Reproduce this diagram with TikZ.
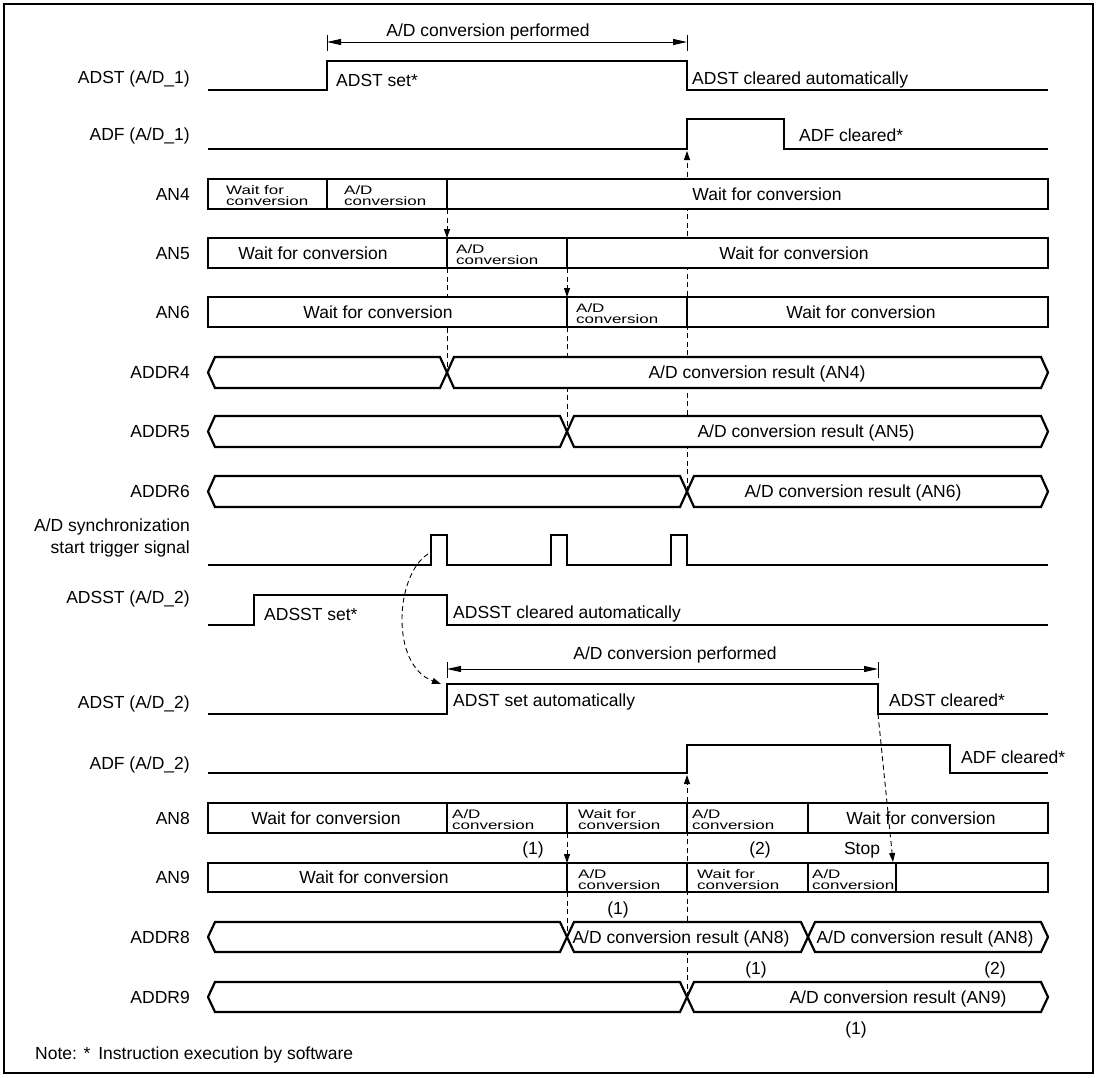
\documentclass[tikz,border=0pt]{standalone}
\usepackage{fontspec}
\setmainfont{Liberation Sans}
\newfontfamily\widefam[FakeStretch=1.38]{Liberation Sans}
\usetikzlibrary{arrows.meta}
\newcommand\fmain{\fontsize{17.5}{20}\selectfont}
\newcommand\fsmall{\widefam\fontsize{12.3}{9}\selectfont}
\tikzset{
  sig/.style={line width=2pt, line join=miter},
  box/.style={line width=2.2pt, fill=white, line join=miter},
  dsh/.style={line width=0.9pt, dash pattern=on 5pt off 3.5pt},
  dar/.style={dsh, -{Triangle[length=9pt,width=6pt]}},
  tar/.style={line width=1pt, {Triangle[length=14pt,width=6pt]}-{Triangle[length=14pt,width=6pt]}},
  tick/.style={line width=1pt},
  lab/.style={anchor=base east, inner sep=0, font=\fmain, yshift=-6.3pt},
  tl/.style={anchor=base west, inner sep=0, font=\fmain, yshift=-6.3pt},
  tc/.style={anchor=base, inner sep=0, font=\fmain, yshift=-6.3pt},
  sm/.style={anchor=base west, inner sep=0, font=\fsmall},
}
\newcommand\twol[5]{% name, x, top, line1, line2
  \node[sm] (#1a) at (#2,#3+15) {#4};
  \node[sm] (#1b) at (#2,#3+26) {#5};}
\newcommand\busone[3]{% top, bottom, X
  \draw[box] (208,{(#1+#2)/2}) -- (215,#1) -- ({#3-7},#1) -- ({#3+7},#2) -- (1041,#2) -- (1048,{(#1+#2)/2}) -- (1041,#1) -- ({#3+7},#1) -- ({#3-7},#2) -- (215,#2) -- cycle;}
\begin{document}
\begin{tikzpicture}[x=1pt,y=-1pt]
\useasboundingbox (0,0) rectangle (1101,1077);
\draw[line width=1.6pt] (4,4) rectangle (1093,1073);

% ---------- coordinates for connectors ----------
\coordinate (an4e) at (447,209);
\coordinate (an5s) at (447,238);
\coordinate (an5e) at (447,268);
\coordinate (x4) at (447,372);
\coordinate (an5f) at (567,268);
\coordinate (an6s) at (567,297);
\coordinate (an6e) at (567,327);
\coordinate (x5) at (567,431);
\coordinate (x6) at (687,491);
\coordinate (adf1r) at (687,151);
\coordinate (x9) at (687,997);
\coordinate (adf2r) at (687,775);
\coordinate (an8e) at (567,833);
\coordinate (an9s) at (567,863);
\coordinate (an9e) at (567,892);
\coordinate (x8) at (567,937);
\coordinate (trg) at (428,554);
\coordinate (adst2r) at (441,684);
\coordinate (adst2f) at (878,714);
\coordinate (stop) at (893,862);

% ---------- hidden dashed connectors (drawn under boxes) ----------
\draw[dar] (an4e) -- (an5s);
\draw[dsh] (an5e) -- (x4);
\draw[dar] (an5f) -- (an6s);
\draw[dsh] (an6e) -- (x5);
\draw[dar] (x6) -- (adf1r);
\draw[dar] (x9) -- (adf2r);
\draw[dar] (an8e) -- (an9s);
\draw[dsh] (an9e) -- (x8);

% ---------- title 1 ----------
\node[tc] (t1) at (488,30) {A/D conversion performed};
\draw[tick] (327,35) -- (327,51) (687,35) -- (687,51);
\draw[tar] (327,42) -- (687,42);

% ---------- ADST (A/D_1) ----------
\node[lab] (l1) at (190,77) {ADST (A/D\_1)};
\draw[sig] (208,90) -- (327,90) -- (327,61) -- (687,61) -- (687,90) -- (1048,90);
\node[tl] (s1) at (336,80) {ADST set*};
\node[tl] (s2) at (692,78) {ADST cleared automatically};

% ---------- ADF (A/D_1) ----------
\node[lab] (l2) at (190,134) {ADF (A/D\_1)};
\draw[sig] (208,149) -- (687,149) -- (687,119) -- (784,119) -- (784,149) -- (1048,149);
\node[tl] (s3) at (799,135) {ADF cleared*};

% ---------- AN4 ----------
\node[lab] (l3) at (190,194) {AN4};
\draw[box] (208,179) rectangle (1048,209);
\draw[box] (327,179) -- (327,209) (447,179) -- (447,209);
\twol{a4w}{226}{179}{Wait for}{conversion}
\twol{a4c}{344}{179}{A/D}{conversion}
\node[tc] (a4x) at (767,194) {Wait for conversion};

% ---------- AN5 ----------
\node[lab] (l4) at (190,253) {AN5};
\draw[box] (208,238) rectangle (1048,268);
\draw[box] (447,238) -- (447,268) (567,238) -- (567,268);
\node[tc] (a5w) at (313,253) {Wait for conversion};
\twol{a5c}{456}{238}{A/D}{conversion}
\node[tc] (a5x) at (794,253) {Wait for conversion};

% ---------- AN6 ----------
\node[lab] (l5) at (190,312) {AN6};
\draw[box] (208,297) rectangle (1048,327);
\draw[box] (567,297) -- (567,327) (687,297) -- (687,327);
\node[tc] (a6w) at (378,312) {Wait for conversion};
\twol{a6c}{576}{297}{A/D}{conversion}
\node[tc] (a6x) at (861,312) {Wait for conversion};

% ---------- ADDR4/5/6 ----------
\node[lab] (l6) at (190,372) {ADDR4};
\busone{357}{388}{447}
\node[tc] (r4) at (757,372) {A/D conversion result (AN4)};
\node[lab] (l7) at (190,431) {ADDR5};
\busone{416}{447}{567}
\node[tc] (r5) at (806,431) {A/D conversion result (AN5)};
\node[lab] (l8) at (190,491) {ADDR6};
\busone{476}{507}{687}
\node[tc] (r6) at (853,491) {A/D conversion result (AN6)};

% ---------- trigger ----------
\node[lab] (l9a) at (190,525) {A/D synchronization};
\node[lab] (l9b) at (190,547) {start trigger signal};
\draw[sig] (208,565) -- (431,565) -- (431,535) -- (447,535) -- (447,565)
  -- (551,565) -- (551,535) -- (567,535) -- (567,565)
  -- (671,565) -- (671,535) -- (687,535) -- (687,565) -- (1048,565);

% ---------- ADSST (A/D_2) ----------
\node[lab] (l10) at (190,597) {ADSST (A/D\_2)};
\draw[sig] (208,625) -- (254,625) -- (254,595) -- (447,595) -- (447,625) -- (1048,625);
\node[tl] (s4) at (264,614) {ADSST set*};
\node[tl] (s5) at (453,612) {ADSST cleared automatically};

% ---------- title 2 ----------
\node[tc] (t2) at (675,653) {A/D conversion performed};
\draw[tick] (447,662) -- (447,678) (878,662) -- (878,678);
\draw[tar] (447,669) -- (878,669);

% ---------- ADST (A/D_2) ----------
\node[lab] (l11) at (190,702) {ADST (A/D\_2)};
\draw[sig] (208,714) -- (447,714) -- (447,684) -- (878,684) -- (878,714) -- (1048,714);
\node[tl] (s6) at (453,700) {ADST set automatically};
\node[tl] (s7) at (889,700) {ADST cleared*};

% ---------- ADF (A/D_2) ----------
\node[lab] (l12) at (190,763) {ADF (A/D\_2)};
\draw[sig] (208,773) -- (687,773) -- (687,745) -- (950,745) -- (950,773) -- (1048,773);
\node[tl] (s8) at (961,757) {ADF cleared*};

% ---------- AN8 ----------
\node[lab] (l13) at (190,818) {AN8};
\draw[box] (208,803) rectangle (1048,833);
\draw[box] (447,803) -- (447,833) (567,803) -- (567,833) (687,803) -- (687,833) (808,803) -- (808,833);
\node[tc] (a8w) at (326,818) {Wait for conversion};
\twol{a8c}{452}{803}{A/D}{conversion}
\twol{a8d}{578}{803}{Wait for}{conversion}
\twol{a8e}{692}{803}{A/D}{conversion}
\node[tc] (a8x) at (921,818) {Wait for conversion};
\node[tc] (n1) at (533,848) {(1)};
\node[tc] (n2) at (760,848) {(2)};
\node[tc] (n3) at (862,848) {Stop};

% ---------- AN9 ----------
\node[lab] (l14) at (190,877) {AN9};
\draw[box] (208,863) rectangle (1048,892);
\draw[box] (567,863) -- (567,892) (687,863) -- (687,892) (808,863) -- (808,892) (896,863) -- (896,892);
\node[tc] (a9w) at (374,877) {Wait for conversion};
\twol{a9c}{578}{863}{A/D}{conversion}
\twol{a9d}{697}{863}{Wait for}{conversion}
\twol{a9e}{812}{863}{A/D}{conversion}
\node[tc] (n4) at (618,908) {(1)};

% ---------- ADDR8 ----------
\node[lab] (l15) at (190,937) {ADDR8};
\draw[box] (208,937) -- (215,922) -- (560,922) -- (574,952) -- (801,952) -- (815,922) -- (1041,922) -- (1048,937)
  -- (1041,952) -- (815,952) -- (801,922) -- (574,922) -- (560,952) -- (215,952) -- cycle;
\node[tc] (r8a) at (681,937) {A/D conversion result (AN8)};
\node[tc] (r8b) at (925,937) {A/D conversion result (AN8)};
\node[tc] (n5) at (756,968) {(1)};
\node[tc] (n6) at (995,968) {(2)};

% ---------- ADDR9 ----------
\node[lab] (l16) at (190,997) {ADDR9};
\busone{982}{1012}{687}
\node[tc] (r9) at (898,997) {A/D conversion result (AN9)};
\node[tc] (n7) at (856,1028) {(1)};

% ---------- visible dashed connectors ----------
\draw[dar] (trg) .. controls (395,575) and (390,665) .. (adst2r);
\draw[dar] (adst2f) -- (stop);

% ---------- note ----------
\node[tl] (note) at (35,1053) {Note: *\hspace{8pt}Instruction execution by software};
\end{tikzpicture}
\end{document}
